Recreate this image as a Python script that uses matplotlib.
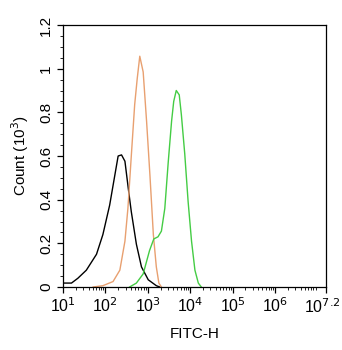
import numpy as np
import matplotlib
matplotlib.use('Agg')
import matplotlib.pyplot as plt
from matplotlib.ticker import FixedLocator, AutoMinorLocator

plt.rcParams['font.family'] = ['Liberation Sans', 'DejaVu Sans']

# histogram traces, log10(FITC-H) vs count (10^3)
black_logx = [1.0, 1.2, 1.35, 1.55, 1.79, 1.94, 2.1, 2.22, 2.3, 2.38, 2.46, 2.54, 2.61, 2.73, 2.85, 3.01, 3.2, 3.28]
black_y = [0.018, 0.018, 0.04, 0.077, 0.15, 0.24, 0.375, 0.51, 0.60, 0.605, 0.576, 0.45, 0.345, 0.196, 0.092, 0.033, 0.006, 0.0]

orange_logx = [1.71, 1.94, 2.18, 2.34, 2.46, 2.53, 2.61, 2.69, 2.75, 2.81, 2.89, 2.97, 3.05, 3.13, 3.2, 3.26, 3.32]
orange_y = [0.0, 0.006, 0.025, 0.077, 0.21, 0.36, 0.6, 0.836, 0.955, 1.057, 0.985, 0.76, 0.51, 0.24, 0.092, 0.018, 0.0]

green_logx = [2.57, 2.73, 2.89, 3.04, 3.14, 3.24, 3.32, 3.4, 3.48, 3.56, 3.61, 3.67, 3.74, 3.79, 3.87, 3.95, 4.03, 4.11, 4.19, 4.26]
green_y = [0.0, 0.018, 0.06, 0.167, 0.22, 0.23, 0.256, 0.36, 0.57, 0.76, 0.85, 0.9, 0.88, 0.79, 0.61, 0.39, 0.21, 0.077, 0.018, 0.0]

x_ticks = [1, 2, 3, 4, 5, 6, 7.2]
x_labels = ['10$^{1}$', '10$^{2}$', '10$^{3}$', '10$^{4}$', '10$^{5}$', '10$^{6}$', '10$^{7.2}$']
y_ticks = [0, 0.2, 0.4, 0.6, 0.8, 1, 1.2]
y_labels = ['0', '0.2', '0.4', '0.6', '0.8', '1', '1.2']

fig = plt.figure(figsize=(3.42, 3.5), dpi=100)
ax = fig.add_axes([63/342, 1 - 287/350, 263/342, 262/350])

ax.plot(black_logx, black_y, color='black', lw=1.0)
ax.plot(orange_logx, orange_y, color='#e8a070', lw=1.0)
ax.plot(green_logx, green_y, color='#44cc44', lw=1.0)

ax.set_xlim(1, 7.2)
ax.set_ylim(0, 1.2)
ax.set_xticks(x_ticks)
# last label is drawn separately, shifted left so it stays inside the figure
ax.set_xticklabels(x_labels[:-1] + [''], fontsize=11.5)
ax.annotate(x_labels[-1], xy=(x_ticks[-1], 0), xytext=(-3, -7.2),
            textcoords='offset points', ha='center', va='top', fontsize=11.5)
minor = [d + np.log10(k) for d in range(1, 7) for k in range(2, 10)]
minor = [m for m in minor if m < 7.2]
ax.xaxis.set_minor_locator(FixedLocator(minor))
ax.set_yticks(y_ticks)
ax.set_yticklabels(y_labels, fontsize=11, rotation=90, va='center')
ax.yaxis.set_minor_locator(AutoMinorLocator(4))
ax.tick_params(direction='out', length=4, width=0.9, pad=3)
ax.tick_params(which='minor', direction='out', length=2, width=0.6)
for s in ax.spines.values():
    s.set_linewidth(0.9)

ax.set_xlabel('FITC-H', fontsize=11, labelpad=8)
ax.set_ylabel('Count (10$^{3}$)', fontsize=11, labelpad=6)

fig.savefig('out.png', dpi=100)
